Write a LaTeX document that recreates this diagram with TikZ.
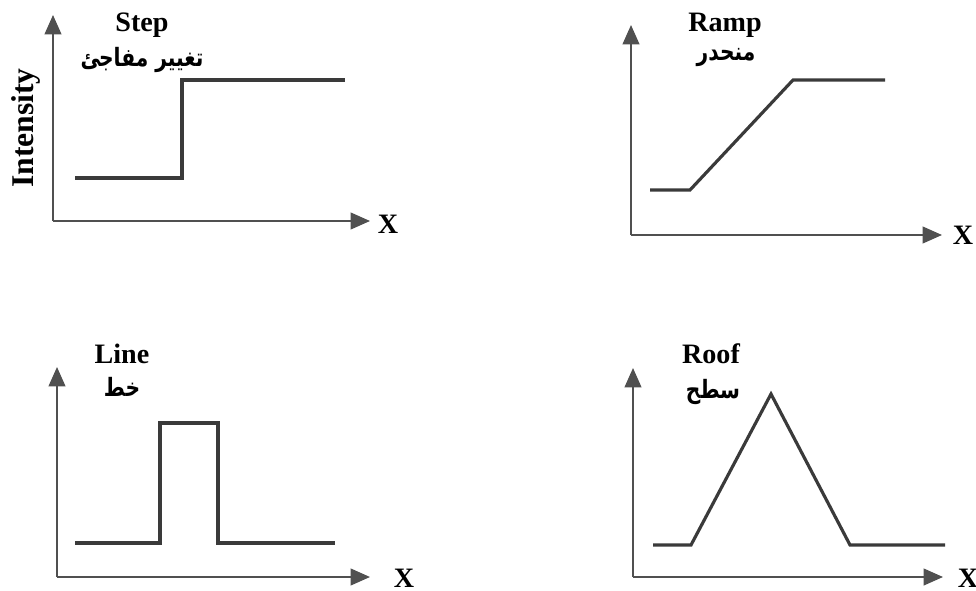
\documentclass[tikz,border=0pt]{standalone}
\usepackage{fontspec}
\setmainfont{Liberation Serif}
\newfontfamily\arabicfont[Script=Arabic]{DejaVu Sans}
\TeXXeTstate=1
\usetikzlibrary{arrows.meta}
\definecolor{ink}{HTML}{3A3A3A}
\definecolor{axs}{HTML}{505050}
\begin{document}
\begin{tikzpicture}[x=0.02cm, y=-0.02cm,
  axis/.style={axs, line width=1.1pt, -{Triangle[length=11pt, width=9.5pt]}},
  sig/.style={ink, line width=1.8pt, line join=miter},
  ttl/.style={font=\bfseries\fontsize{16}{18}\selectfont, inner sep=0pt, anchor=base},
  ara/.style={font=\arabicfont\bfseries\fontsize{11.5}{14}\selectfont, inner sep=0pt, yscale=1.25, transform shape},
  xl/.style={font=\bfseries\fontsize{16}{18}\selectfont, inner sep=0pt}]
\useasboundingbox (0,0) rectangle (976,591);
\coordinate (o1) at (53,221); \coordinate (t1) at (53,15); \coordinate (r1) at (370,221);
\coordinate (o2) at (631,235); \coordinate (t2) at (631,25); \coordinate (r2) at (942,235);
\coordinate (o3) at (57,577); \coordinate (t3) at (57,367); \coordinate (r3) at (370,577);
\coordinate (o4) at (633,577); \coordinate (t4) at (633,368); \coordinate (r4) at (943,577);
\foreach \i in {1,...,4} {\draw[axis] (o\i) -- (t\i); \draw[axis] (o\i) -- (r\i);}
\draw[sig] (75,178) -- (182,178) -- (182,80) -- (345,80);
\draw[sig] (650,190) -- (690,190) -- (793,80) -- (885,80);
\draw[sig] (75,543) -- (160,543) -- (160,423) -- (218,423) -- (218,543) -- (335,543);
\draw[sig] (653,545) -- (691,545) -- (771,394) -- (850,545) -- (945,545);
\node[ttl] (step) at (142,32) {Step};
\node[ara] (stepar) at (142,60) {\beginR تغيير مفاجئ\endR};
\node[ttl] (ramp) at (725,32) {Ramp};
\node[ara] (rampar) at (726,58) {\beginR منحدر\endR};
\node[ttl] (line) at (122,363) {Line};
\node[ara] (linear) at (122,387) {\beginR خط\endR};
\node[ttl] (roof) at (711,363) {Roof};
\node[ara] (roofar) at (713,392) {\beginR سطح\endR};
\node[ttl, rotate=90, font=\bfseries\fontsize{18}{20}\selectfont] (inten) at (33,128) {Intensity};
\node[xl] (x1) at (388,224) {X};
\node[xl] (x2) at (963,235) {X};
\node[xl] (x3) at (404,578) {X};
\node[xl] (x4) at (968,578) {X};
\end{tikzpicture}
\end{document}
